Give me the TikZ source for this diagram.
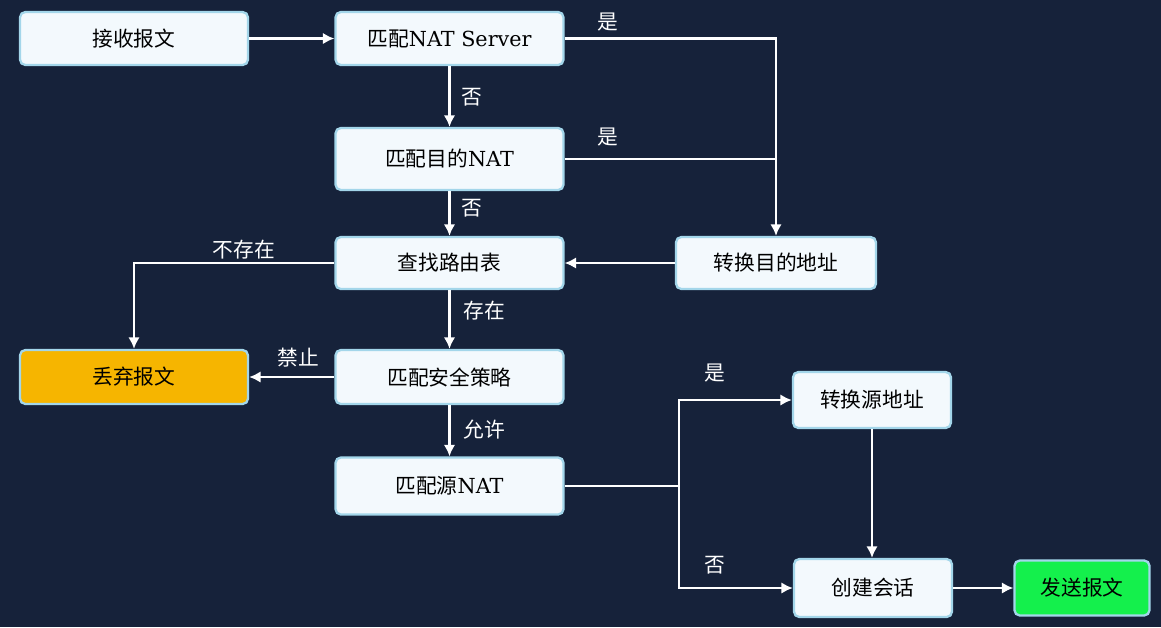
\documentclass[tikz,border=0pt]{standalone}
\usepackage{fontspec}
\setmainfont{DejaVu Serif}
\newfontfamily\cjk{Noto Sans CJK SC}
\usetikzlibrary{arrows.meta}

\definecolor{bgnavy}{HTML}{16223A}
\definecolor{boxfill}{HTML}{F3F9FD}
\definecolor{boxline}{HTML}{A3D6EA}
\definecolor{dropcol}{HTML}{F6B500}
\definecolor{sendcol}{HTML}{14F04C}

\begin{document}
\begin{tikzpicture}[x=0.02cm, y=-0.02cm,
    box/.style={draw=boxline, line width=1.3pt, fill=boxfill, rounded corners=3pt,
        minimum width=4.56cm, minimum height=1.06cm, inner sep=0pt,
        font=\fontsize{11.8}{14}\selectfont\cjk},
    tag/.style={text=white, font=\fontsize{11.8}{14}\selectfont\cjk, inner sep=0pt},
    link/.style={white, line width=1.3pt},
    flow/.style={link, -{Latex[length=2.3mm,width=2.3mm]}}]
        \fill[bgnavy] (0,0) rectangle (1161,627);
        % first column
        \node[box] (recv) at (134,38.5) {接收报文};
        \node[box] (natsrv) at (449.5,38.5) {匹配\rmfamily NAT Server};
        \node[box, minimum height=1.24cm] (dstnat) at (449.5,159) {匹配目的\rmfamily NAT};
        \node[box, minimum height=1.04cm] (route) at (449.5,263) {查找路由表};
        \node[box, minimum width=4cm, minimum height=1.04cm] (dstaddr) at (776,263) {转换目的地址};
        \node[box, fill=dropcol, minimum height=1.08cm] (drop) at (134,377) {丢弃报文};
        \node[box, minimum height=1.08cm] (policy) at (449.5,377) {匹配安全策略};
        \node[box, minimum height=1.14cm] (srcnat) at (449.5,486) {匹配源\rmfamily NAT};
        % right part
        \node[box, minimum width=3.16cm, minimum height=1.12cm] (srcaddr) at (872,400) {转换源地址};
        \node[box, minimum width=3.16cm, minimum height=1.16cm] (session) at (873,588) {创建会话};
        \node[box, fill=sendcol, minimum width=2.7cm, minimum height=1.1cm] (send) at (1082,588) {发送报文};
        \coordinate (split) at (679,486);
        % connectors
        \draw[flow] (recv) -- (natsrv);
        \draw[flow] (natsrv.east) -| (dstaddr.north);
        \draw[link] (dstnat.east) -- (dstnat.east -| dstaddr.north);
        \draw[flow] (natsrv) -- (dstnat);
        \draw[flow] (dstnat) -- (route);
        \draw[flow] (dstaddr) -- (route);
        \draw[flow] (route.west) -| (drop.north);
        \draw[flow] (route) -- (policy);
        \draw[flow] (policy) -- (drop);
        \draw[flow] (policy) -- (srcnat);
        \draw[link] (srcnat.east) -- (split);
        \draw[flow] (split) |- (srcaddr.west);
        \draw[flow] (split) |- (session.west);
        \draw[flow] (srcaddr.south) -- (srcaddr.south |- session.north);
        \draw[flow] (session) -- (send);
        % labels
        \node[tag] (yes1) at (608,22) {是};
        \node[tag] (yes2) at (608,137) {是};
        \node[tag] (no1) at (472,97) {否};
        \node[tag] (no2) at (472,208) {否};
        \node[tag] (absent) at (244,250) {不存在};
        \node[tag] (present) at (484,311) {存在};
        \node[tag] (deny) at (298,358) {禁止};
        \node[tag] (permit) at (484,430) {允许};
        \node[tag] (yes3) at (715,373) {是};
        \node[tag] (no3) at (715,565) {否};
    \end{tikzpicture}
\end{document}
